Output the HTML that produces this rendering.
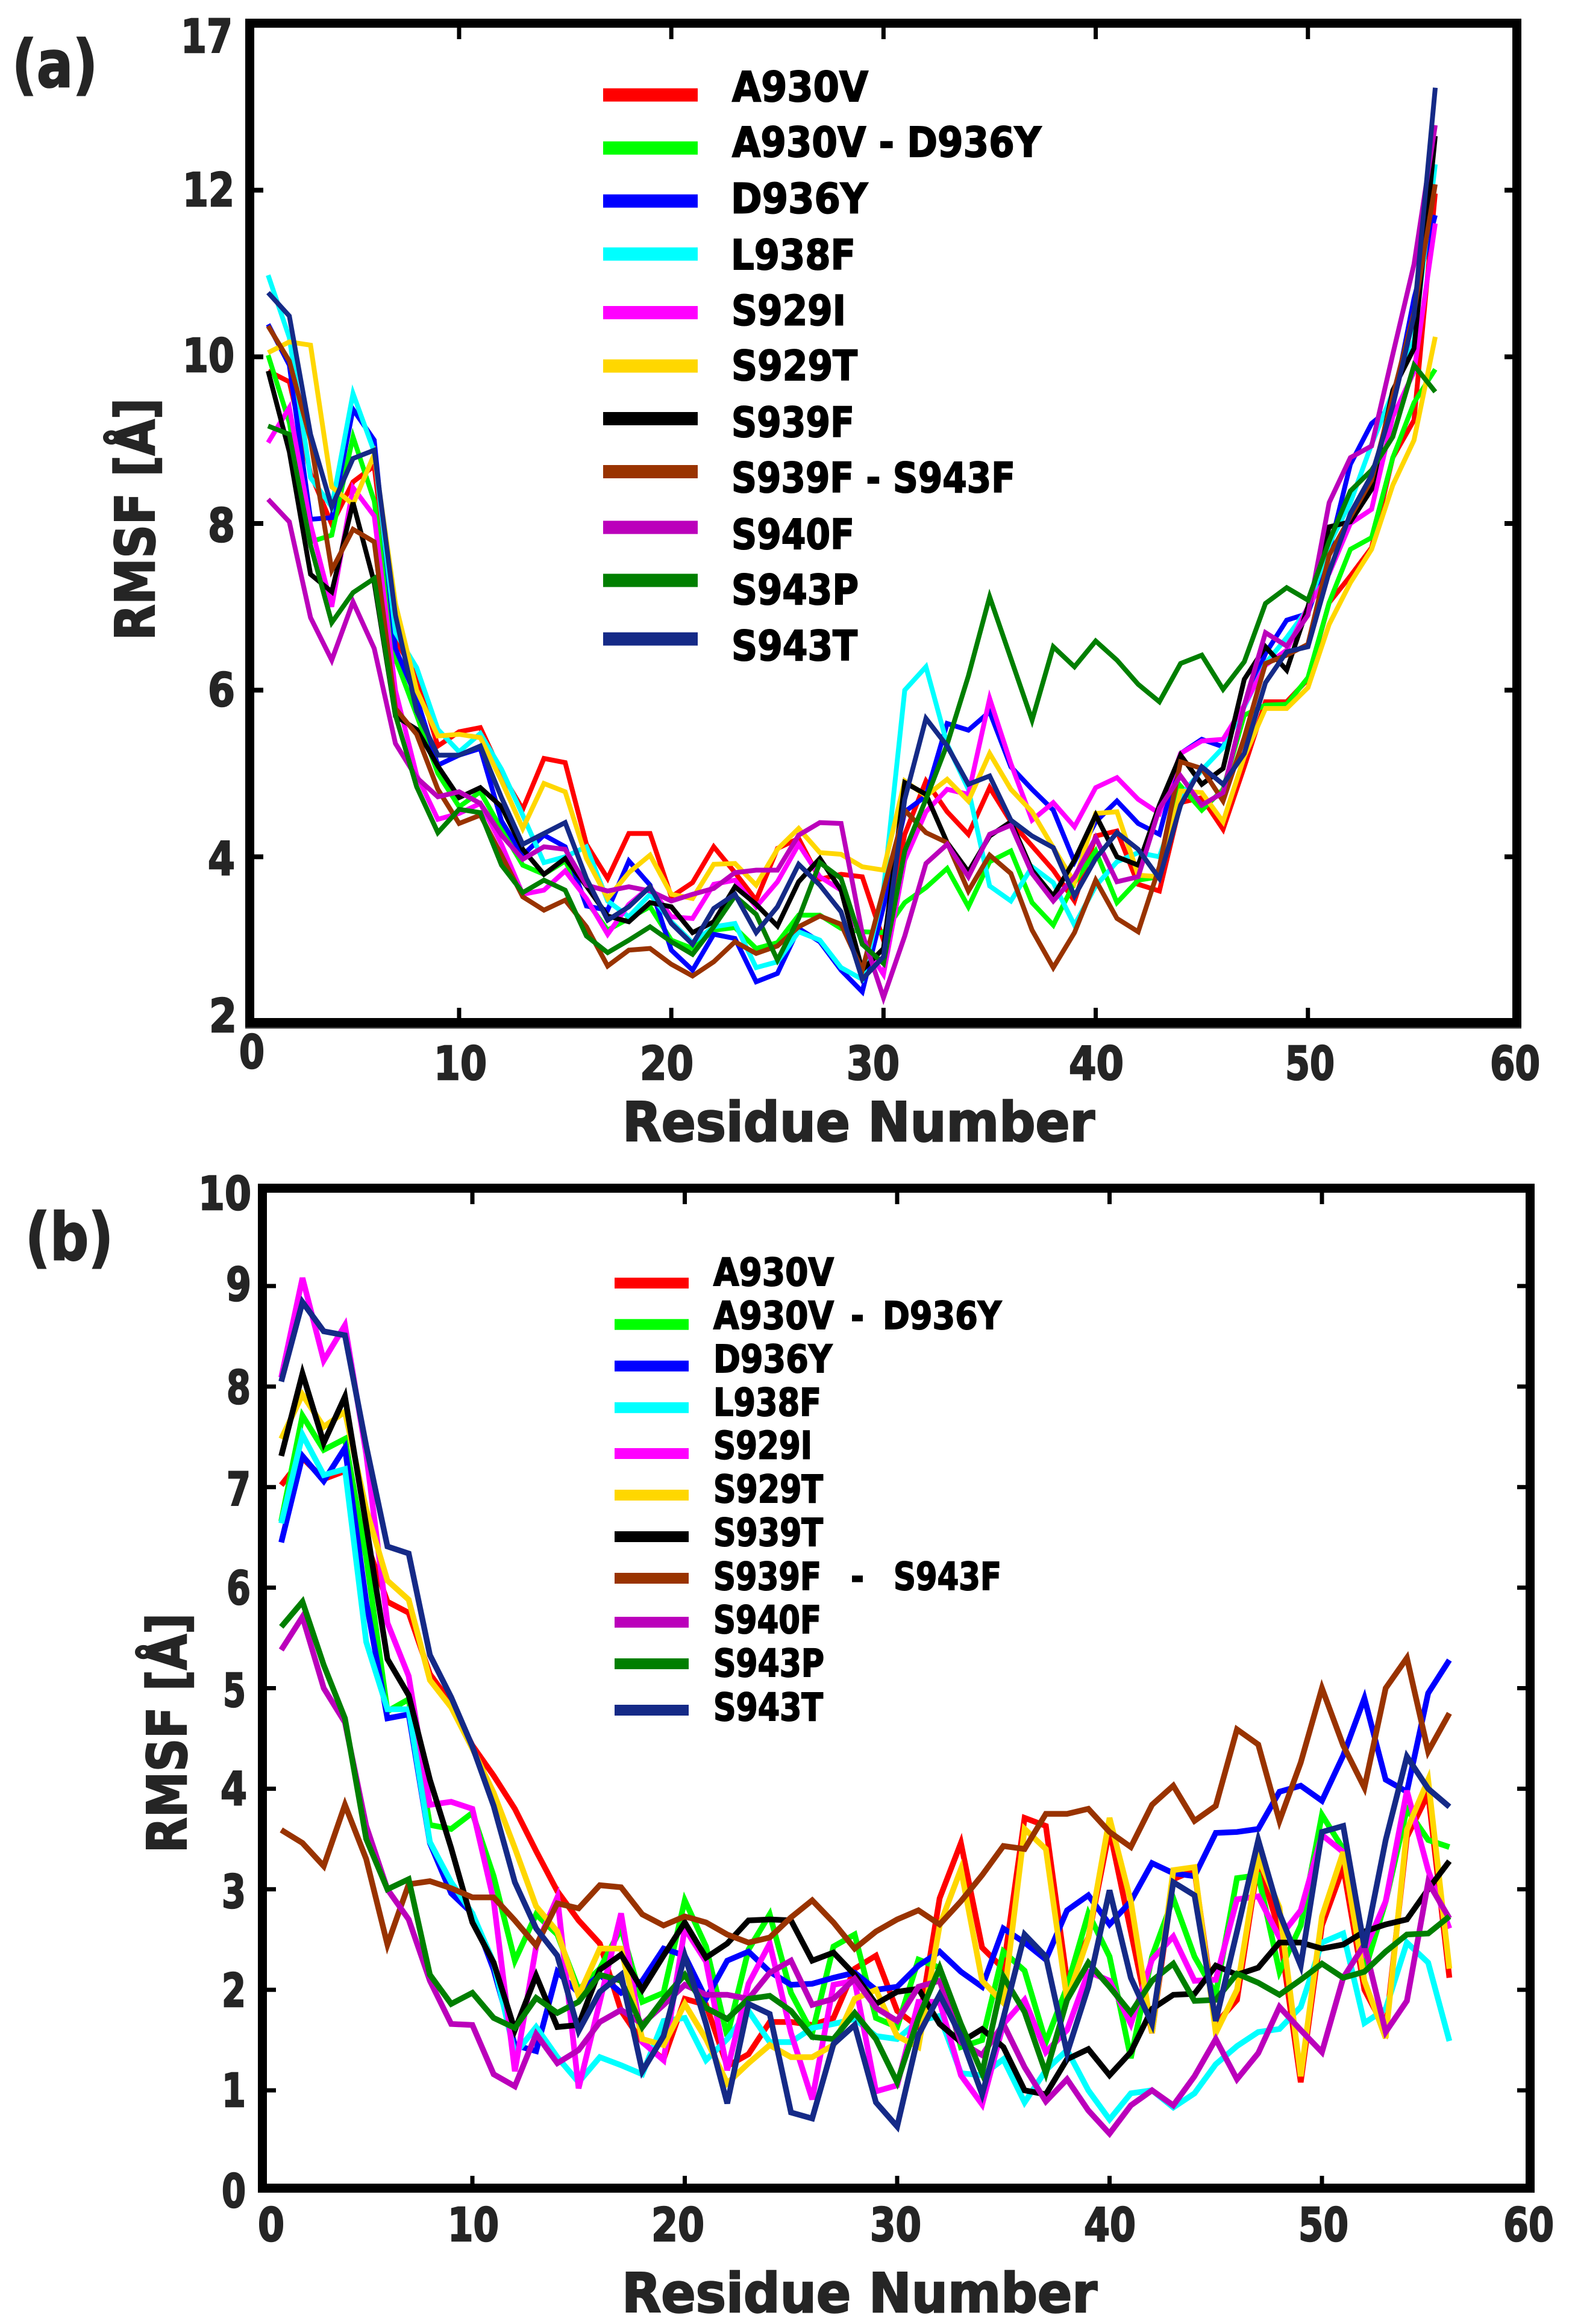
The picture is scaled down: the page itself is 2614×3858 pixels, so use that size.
<!DOCTYPE html>
<html lang="en">
<head>
<meta charset="utf-8">
<title>RMSF per residue</title>
<style>
html,body{margin:0;padding:0;background:#fff;}
svg{display:block;}
text{font-family:"DejaVu Sans","Liberation Sans",sans-serif;font-weight:700;}
.ax{fill:#252525;stroke:#252525;stroke-width:2.5;}
.lg{fill:#000;stroke:#000;stroke-width:2;}
</style>
</head>
<body>
<svg id="fig" xmlns="http://www.w3.org/2000/svg" width="2614" height="3858" viewBox="0 0 2614 3858">
<rect x="0" y="0" width="2614" height="3858" fill="#fff"/>

<g id="panelA">
  <g id="linesA"></g>
  <g id="ticksA"></g>
  <rect x="414.5" y="38.5" width="2103" height="1659" fill="none" stroke="#000" stroke-width="15"/>
  <rect x="407" y="1705" width="2118" height="2.5" fill="#333"/>
  <text class="ax" x="20" y="144" font-size="108" textLength="142" lengthAdjust="spacingAndGlyphs">(a)</text>
  <text class="ax" x="1033" y="1894" font-size="90" textLength="784" lengthAdjust="spacingAndGlyphs">Residue Number</text>
  <text class="ax" transform="translate(256,1063) rotate(-90)" x="0" y="0" font-size="90" textLength="402" lengthAdjust="spacingAndGlyphs">RMSF [Å]</text>
  <g>
    <rect x="1001" y="146.6" width="157" height="22" fill="#ff0000"/>
    <rect x="1001" y="234.7" width="157" height="22" fill="#00ff00"/>
    <rect x="1001" y="322.7" width="157" height="22" fill="#0000ff"/>
    <rect x="1001" y="410.7" width="157" height="22" fill="#00ffff"/>
    <rect x="1001" y="508" width="157" height="22" fill="#ff00ff"/>
    <rect x="1001" y="596.6" width="157" height="22" fill="#ffd700"/>
    <rect x="1001" y="684" width="157" height="22" fill="#000000"/>
    <rect x="1001" y="772" width="157" height="22" fill="#993300"/>
    <rect x="1001" y="864.5" width="157" height="22" fill="#bb00bb"/>
    <rect x="1001" y="952.5" width="157" height="22" fill="#007f00"/>
    <rect x="1001" y="1049.7" width="157" height="22" fill="#152a87"/>
    <text class="lg" x="1215" y="168" font-size="69" textLength="226" lengthAdjust="spacingAndGlyphs">A930V</text>
    <text class="lg" x="1215" y="260" font-size="69" textLength="513" lengthAdjust="spacingAndGlyphs">A930V - D936Y</text>
    <text class="lg" x="1213" y="353.6" font-size="69" textLength="227" lengthAdjust="spacingAndGlyphs">D936Y</text>
    <text class="lg" x="1213" y="447" font-size="69" textLength="207" lengthAdjust="spacingAndGlyphs">L938F</text>
    <text class="lg" x="1214" y="539.5" font-size="69" textLength="190" lengthAdjust="spacingAndGlyphs">S929I</text>
    <text class="lg" x="1214" y="631" font-size="69" textLength="209" lengthAdjust="spacingAndGlyphs">S929T</text>
    <text class="lg" x="1214" y="725" font-size="69" textLength="204" lengthAdjust="spacingAndGlyphs">S939F</text>
    <text class="lg" x="1214" y="817" font-size="69" textLength="471" lengthAdjust="spacingAndGlyphs">S939F - S943F</text>
    <text class="lg" x="1214" y="911" font-size="69" textLength="204" lengthAdjust="spacingAndGlyphs">S940F</text>
    <text class="lg" x="1214" y="1003" font-size="69" textLength="211" lengthAdjust="spacingAndGlyphs">S943P</text>
    <text class="lg" x="1214" y="1096" font-size="69" textLength="209" lengthAdjust="spacingAndGlyphs">S943T</text>
  </g>
</g>

<g id="panelB">
  <g id="linesB"></g>
  <g id="ticksB"></g>
  <rect x="435.5" y="1972.5" width="2104" height="1660" fill="none" stroke="#000" stroke-width="15"/>
  <text class="ax" x="42" y="2091" font-size="108" textLength="146" lengthAdjust="spacingAndGlyphs">(b)</text>
  <text class="ax" x="1032" y="3838" font-size="90" textLength="789" lengthAdjust="spacingAndGlyphs">Residue Number</text>
  <text class="ax" transform="translate(309,3076) rotate(-90)" x="0" y="0" font-size="90" textLength="398" lengthAdjust="spacingAndGlyphs">RMSF [Å]</text>
  <g>
    <rect x="1020" y="2121" width="123" height="18" fill="#ff0000"/>
    <rect x="1020" y="2189.7" width="123" height="18" fill="#00ff00"/>
    <rect x="1020" y="2258.7" width="123" height="18" fill="#0000ff"/>
    <rect x="1020" y="2327.8" width="123" height="18" fill="#00ffff"/>
    <rect x="1020" y="2404" width="123" height="18" fill="#ff00ff"/>
    <rect x="1020" y="2473" width="123" height="18" fill="#ffd700"/>
    <rect x="1020" y="2542" width="123" height="18" fill="#000000"/>
    <rect x="1020" y="2611" width="123" height="18" fill="#993300"/>
    <rect x="1020" y="2684" width="123" height="18" fill="#bb00bb"/>
    <rect x="1020" y="2753" width="123" height="18" fill="#007f00"/>
    <rect x="1020" y="2830" width="123" height="18" fill="#152a87"/>
    <text class="lg" x="1184" y="2134" font-size="63" textLength="200" lengthAdjust="spacingAndGlyphs">A930V</text>
    <g>
      <text class="lg" x="1184" y="2206" font-size="63" textLength="200" lengthAdjust="spacingAndGlyphs">A930V</text>
      <text class="lg" x="1412" y="2206" font-size="63" textLength="22" lengthAdjust="spacingAndGlyphs">-</text>
      <text class="lg" x="1465" y="2206" font-size="63" textLength="197" lengthAdjust="spacingAndGlyphs">D936Y</text>
    </g>
    <text class="lg" x="1184" y="2278" font-size="63" textLength="197" lengthAdjust="spacingAndGlyphs">D936Y</text>
    <text class="lg" x="1184" y="2350" font-size="63" textLength="179" lengthAdjust="spacingAndGlyphs">L938F</text>
    <text class="lg" x="1184" y="2421.5" font-size="63" textLength="164" lengthAdjust="spacingAndGlyphs">S929I</text>
    <text class="lg" x="1184" y="2494" font-size="63" textLength="182" lengthAdjust="spacingAndGlyphs">S929T</text>
    <text class="lg" x="1184" y="2566" font-size="63" textLength="182" lengthAdjust="spacingAndGlyphs">S939T</text>
    <g>
      <text class="lg" x="1184" y="2639" font-size="63" textLength="179" lengthAdjust="spacingAndGlyphs">S939F</text>
      <text class="lg" x="1412" y="2639" font-size="63" textLength="22" lengthAdjust="spacingAndGlyphs">-</text>
      <text class="lg" x="1483" y="2639" font-size="63" textLength="179" lengthAdjust="spacingAndGlyphs">S943F</text>
    </g>
    <text class="lg" x="1184" y="2711" font-size="63" textLength="179" lengthAdjust="spacingAndGlyphs">S940F</text>
    <text class="lg" x="1184" y="2783" font-size="63" textLength="184" lengthAdjust="spacingAndGlyphs">S943P</text>
    <text class="lg" x="1184" y="2856" font-size="63" textLength="182" lengthAdjust="spacingAndGlyphs">S943T</text>
  </g>
</g>
</svg>

<script>
// ---------- shared ----------
const seriesColors = ['#ff0000','#00ff00','#0000ff','#00ffff','#ff00ff','#ffd700','#000000','#993300','#bb00bb','#007f00','#152a87'];

// ---------- panel (a) data ----------
const seriesNamesA = ['a930v','a930v-d936y','d936y','l938f','s929i','s929t','s939f','s939f-s943f','s940f','s943p','s943t'];
const a_A930V = [9.83,9.7,8.6,7.99,8.5,8.69,6.6,6.17,5.33,5.5,5.55,5.0,4.57,5.18,5.13,4.15,3.74,4.28,4.28,3.52,3.69,4.12,3.81,3.48,4.1,4.22,3.73,3.79,3.76,3.0,4.27,4.91,4.54,4.27,4.83,4.42,4.13,3.84,3.47,4.25,4.31,3.67,3.59,4.65,4.71,4.33,5.08,5.86,5.86,6.13,7.05,7.37,7.71,8.79,9.24,11.96];
const a_A930V_D936Y = [10.02,9.21,7.78,7.86,9.04,8.27,6.38,5.7,5.0,4.6,4.78,4.33,3.9,3.79,3.95,3.47,3.12,3.26,3.4,3.0,2.9,3.12,3.15,2.9,2.97,3.3,3.3,3.14,3.1,3.09,3.45,3.63,3.86,3.4,3.94,4.07,3.45,3.18,3.69,4.07,3.45,3.72,3.76,4.85,4.56,4.81,5.7,5.82,5.83,6.15,7.05,7.69,7.83,8.79,9.45,9.85];
const a_D936Y = [10.39,9.9,8.05,8.07,9.37,9.0,6.5,5.9,5.1,5.22,5.3,4.43,4.02,4.26,4.12,3.41,3.36,3.95,3.66,2.88,2.64,3.07,3.02,2.5,2.6,3.14,2.98,2.64,2.38,3.4,4.54,4.73,5.6,5.52,5.74,5.08,4.81,4.56,3.94,4.42,4.67,4.4,4.27,5.24,5.41,5.32,5.82,6.44,6.84,6.92,7.67,8.71,9.2,9.41,10.7,11.7];
const a_L938F = [10.98,10.23,8.55,8.2,9.56,8.86,6.69,6.27,5.53,5.26,5.48,5.05,4.5,3.93,4.0,4.12,3.47,3.28,3.55,3.22,2.97,3.16,3.2,2.67,2.74,3.1,3.0,2.67,2.53,3.6,6.0,6.28,5.35,4.81,3.65,3.47,3.88,3.69,3.18,3.65,3.94,4.05,4.0,4.73,5.04,5.31,5.8,6.32,6.63,6.98,7.75,8.25,8.95,9.57,10.2,12.31];
const a_S929I = [8.97,9.39,7.99,7.0,8.43,8.09,6.0,4.98,4.45,4.52,4.64,4.15,3.55,3.6,3.83,3.5,3.07,3.43,3.64,3.28,3.26,3.67,3.72,3.4,3.7,4.15,3.76,3.6,2.98,2.59,3.96,4.54,4.81,4.75,5.9,5.12,4.44,4.65,4.36,4.83,4.95,4.69,4.52,5.24,5.39,5.41,5.82,6.3,6.48,7.0,7.4,8.0,8.17,9.28,9.82,11.6];
const a_S929T = [10.05,10.18,10.14,8.44,8.23,8.83,7.04,6.0,5.45,5.47,5.43,4.91,4.34,4.88,4.78,3.98,3.5,3.81,4.02,3.55,3.5,3.91,3.92,3.66,4.09,4.34,4.05,4.03,3.88,3.84,4.91,4.73,4.93,4.67,5.24,4.81,4.54,4.11,3.69,4.52,4.54,3.78,3.76,4.79,4.77,4.42,5.2,5.78,5.78,6.03,6.79,7.29,7.69,8.46,9.0,10.24];
const a_S939F = [9.83,8.86,7.39,7.18,8.25,7.29,5.69,5.53,5.09,4.71,4.83,4.6,4.09,3.79,3.98,3.65,3.29,3.22,3.45,3.4,3.09,3.22,3.64,3.43,3.17,3.7,3.98,3.6,2.64,2.9,4.89,4.75,4.17,3.82,4.25,4.42,3.84,3.53,3.96,4.5,4.0,3.9,4.62,5.22,4.87,5.06,6.13,6.52,6.24,7.0,7.96,8.02,8.41,9.6,10.1,12.65];
const a_S939F_S943F = [10.37,9.95,9.0,7.44,7.93,7.78,5.78,5.47,4.81,4.4,4.5,4.02,3.52,3.36,3.48,3.16,2.69,2.88,2.9,2.71,2.57,2.74,2.98,2.84,2.93,3.16,3.29,3.19,2.64,3.6,4.56,4.29,4.17,3.59,4.02,3.8,3.12,2.67,3.09,3.72,3.26,3.1,3.88,5.14,5.06,4.67,5.43,6.32,6.42,6.55,7.62,8.08,8.52,9.53,10.53,12.07];
const a_S940F = [8.29,8.02,6.87,6.36,7.06,6.5,5.36,4.95,4.72,4.78,4.64,4.26,3.97,4.12,4.09,3.66,3.59,3.64,3.59,3.47,3.55,3.62,3.81,3.84,3.84,4.26,4.41,4.4,3.08,2.31,3.05,3.92,4.15,3.76,4.27,4.38,3.8,3.47,3.76,4.23,3.7,3.76,4.58,4.97,4.62,4.77,5.82,6.69,6.53,6.9,8.25,8.79,8.93,10.03,11.11,12.78];
const a_S943P = [9.17,9.07,7.74,6.81,7.17,7.34,5.7,4.84,4.29,4.57,4.53,3.9,3.57,3.72,3.6,3.05,2.85,3.0,3.16,2.98,2.83,3.16,3.53,3.31,2.76,3.26,3.93,3.74,2.95,2.72,4.07,4.69,5.35,6.17,7.12,6.38,5.64,6.52,6.28,6.59,6.36,6.07,5.86,6.32,6.42,6.01,6.34,7.04,7.23,7.08,7.79,8.39,8.64,9.04,9.9,9.58];
const a_S943T = [10.77,10.49,9.07,8.2,8.78,8.88,6.9,5.75,5.22,5.22,5.33,4.71,4.15,4.28,4.41,3.74,3.24,3.4,3.64,3.2,2.95,3.38,3.55,3.09,3.4,3.91,3.66,3.34,2.53,2.8,4.69,5.66,5.33,4.87,4.97,4.44,4.25,4.11,3.53,3.98,4.29,4.09,3.74,4.62,5.08,4.87,5.24,6.09,6.46,6.52,7.42,8.12,8.58,9.41,10.49,13.23];
const xTicksA = [0,10,20,30,40,50,60];
const yTicksA = [2,4,6,8,10,12,14];
const yTickLabelsA = ['2','4','6','8','10','12','17'];

// ---------- panel (b) data ----------
const seriesNamesB = ['a930v','a930v-d936y','d936y','l938f','s929i','s929t','s939t','s939f-s943f','s940f','s943p','s943t'];
const b_A930V = [7.02,7.29,7.08,7.16,6.45,5.86,5.75,5.14,4.85,4.43,4.13,3.8,3.38,2.98,2.69,2.46,1.79,1.48,1.31,1.91,1.85,1.24,1.36,1.68,1.68,1.65,1.72,2.21,2.34,1.79,1.63,2.91,3.46,2.42,2.21,3.71,3.63,2.09,2.52,3.59,2.58,1.57,3.1,3.19,1.66,1.9,3.28,2.58,1.08,2.64,3.22,2.0,1.6,3.52,3.95,2.12];
const b_A930V_D936Y = [6.66,7.71,7.37,7.48,6.3,4.77,4.89,3.64,3.6,3.76,3.13,2.29,2.75,2.55,2.0,2.21,2.61,1.88,1.97,2.89,2.43,1.54,2.4,2.75,1.97,1.57,2.43,2.55,1.72,1.63,2.3,2.22,1.43,1.5,2.38,2.19,1.48,2.03,2.76,2.33,1.32,2.33,2.91,2.33,1.96,3.11,3.14,2.18,2.64,3.74,3.4,2.18,2.88,3.8,3.49,3.42];
const b_D936Y = [6.45,7.31,7.06,7.39,5.86,4.7,4.74,3.46,2.96,2.76,2.2,1.45,1.39,2.18,1.97,2.15,1.97,2.09,2.41,2.34,1.91,2.29,2.38,2.18,2.05,2.06,2.12,2.17,2.0,2.03,2.24,2.38,2.18,2.03,2.61,2.47,2.3,2.79,2.94,2.65,2.88,3.26,3.16,3.13,3.56,3.57,3.6,3.97,4.03,3.88,4.33,4.9,4.09,3.97,4.95,5.28];
const b_L938F = [6.64,7.52,7.12,7.18,5.46,4.79,4.79,3.47,3.07,2.76,2.27,1.36,1.63,1.33,1.08,1.33,1.25,1.16,1.69,1.72,1.3,1.51,1.79,1.48,1.48,1.62,1.66,1.71,1.54,1.51,1.69,1.74,1.17,1.15,1.31,0.88,1.2,1.4,1.0,0.71,0.97,1.0,0.83,0.97,1.26,1.44,1.58,1.61,1.83,2.47,2.56,1.67,1.81,2.47,2.27,1.49];
const b_S929I = [8.09,9.08,8.26,8.61,7.33,5.65,5.12,3.84,3.87,3.8,2.89,1.19,2.43,2.92,1.02,1.88,2.76,1.48,1.3,2.61,2.28,1.2,2.06,2.46,1.57,0.91,2.05,2.09,0.99,1.05,1.88,1.88,1.15,0.86,1.66,1.9,1.38,1.6,2.18,2.09,1.66,2.3,2.53,2.09,2.1,2.9,2.93,2.52,2.79,3.54,3.37,2.39,2.88,3.98,3.19,2.61];
const b_S929T = [7.48,7.92,7.6,7.75,6.78,6.07,5.88,5.08,4.81,4.4,3.96,3.41,2.83,2.58,1.94,2.41,2.41,1.51,1.45,1.86,1.51,1.07,1.27,1.45,1.33,1.33,1.45,1.91,2.0,1.54,1.43,2.64,3.2,2.09,1.87,3.6,3.4,1.9,2.52,3.71,2.88,1.57,3.19,3.22,1.57,2.0,3.31,2.82,1.14,2.73,3.37,2.09,1.52,3.59,4.09,2.21];
const b_S939T = [7.31,8.13,7.44,7.9,6.62,5.29,4.93,4.09,3.41,2.67,2.27,1.6,2.14,1.63,1.65,2.2,2.35,2.0,2.34,2.67,2.32,2.46,2.69,2.7,2.69,2.29,2.37,2.15,1.86,1.98,2.01,1.66,1.48,1.61,1.43,1.0,0.96,1.31,1.41,1.15,1.38,1.81,1.95,1.96,2.24,2.15,2.22,2.47,2.47,2.41,2.45,2.58,2.65,2.7,3.0,3.28];
const b_S939F_S943F = [3.59,3.46,3.23,3.84,3.3,2.45,3.05,3.08,3.01,2.92,2.92,2.69,2.44,2.86,2.81,3.04,3.02,2.75,2.64,2.73,2.67,2.55,2.47,2.52,2.72,2.89,2.67,2.41,2.58,2.7,2.79,2.65,2.88,3.14,3.43,3.4,3.75,3.75,3.8,3.57,3.42,3.84,4.03,3.68,3.83,4.59,4.44,3.68,4.26,5.0,4.43,4.01,5.0,5.3,4.37,4.75];
const b_S940F = [5.38,5.71,5.0,4.66,3.63,3.0,2.7,2.09,1.66,1.65,1.16,1.04,1.56,1.27,1.4,1.68,1.8,1.66,1.85,2.05,1.95,1.95,1.91,2.17,2.29,1.85,1.91,2.11,1.82,1.69,2.03,2.09,1.48,1.35,1.66,1.23,0.89,1.11,0.8,0.57,0.85,1.0,0.85,1.14,1.51,1.11,1.37,1.83,1.6,1.38,2.12,2.45,1.58,1.89,3.07,2.71];
const b_S943P = [5.61,5.86,5.23,4.7,3.5,3.0,3.1,2.15,1.86,1.97,1.72,1.62,1.92,1.77,1.88,2.15,2.09,1.63,1.91,2.15,1.82,1.71,1.91,1.94,1.79,1.53,1.51,1.77,1.51,1.08,1.72,2.22,1.66,1.17,2.13,1.78,1.17,1.9,2.27,2.03,1.77,2.09,2.26,1.89,1.9,2.16,2.07,1.95,2.1,2.26,2.12,2.18,2.38,2.55,2.56,2.73];
const b_S943T = [8.05,8.84,8.55,8.51,7.41,6.41,6.34,5.33,4.91,4.42,3.83,3.07,2.61,2.34,1.59,1.98,2.15,1.19,1.54,2.34,1.66,0.87,1.86,1.76,0.78,0.72,1.46,1.65,0.88,0.64,1.55,1.95,1.54,0.96,1.72,2.55,2.33,1.37,2.03,2.99,2.12,1.66,3.07,2.94,1.69,2.58,3.49,2.76,2.24,3.57,3.63,2.42,3.49,4.32,4.0,3.82];
const xTicksB = [0,10,20,30,40,50,60];
const yTicksB = [0,1,2,3,4,5,6,7,8,9,10];

const seriesA = [a_A930V,a_A930V_D936Y,a_D936Y,a_L938F,a_S929I,a_S929T,a_S939F,a_S939F_S943F,a_S940F,a_S943P,a_S943T];
const seriesB = [b_A930V,b_A930V_D936Y,b_D936Y,b_L938F,b_S929I,b_S929T,b_S939T,b_S939F_S943F,b_S940F,b_S943P,b_S943T];

// ---------- axis functions ----------
function xA(v){ return 409.75 + 35.22 * v; }
function yA(v){ return 1699 - (v - 2) * 138.33; }
function xB(v){ return 431.5 + 35.25 * v; }
function yB(v){ return 3637 - 166.9 * v; }

const SVGNS = 'http://www.w3.org/2000/svg';
function make(tag, attrs, parent){
  const e = document.createElementNS(SVGNS, tag);
  for (const k in attrs) e.setAttribute(k, attrs[k]);
  parent.appendChild(e);
  return e;
}
function drawSeries(group, series, names, xf, yf, width){
  series.forEach(function(vals, s){
    const pts = vals.map(function(v, i){ return xf(i + 1).toFixed(1) + ',' + yf(v).toFixed(1); }).join(' ');
    const line = make('polyline', {points: pts, fill: 'none', stroke: seriesColors[s], 'stroke-width': width, 'stroke-linejoin': 'miter', 'stroke-miterlimit': 4, 'stroke-linecap': 'butt'}, group);
    
    
  });
}

// layout of tick-label glyph boxes (left edge, width, baseline) per panel
function labelBoxXA(i){ return [[397,42],[720,88],[1062,89],[1405,88],[1774,91],[2133,82],[2473,83]][i]; }
function labelBoxYA(i){ return [[347,46,1713],[345,45,1452],[345,45,1172],[345,45,899],[303,86,617],[303,86,342],[300,86,87]][i]; }
function labelBoxYB(i){ return [[368,40,3664],[368,40,3497],[368,40,3331],[368,40,3167],[366,44,2996],[370,38,2833],[376,40,2663],[376,40,2499],[376,40,2330],[375,42,2159],[329,88,2008]][i]; }
function labelBoxXB(i){ return [[428,44],[743,85],[1081,88],[1444,85],[1799,86],[2155,83],[2495,84]][i]; }

// ---------- panel (a) ----------
const gLinesA = document.getElementById('linesA');
const gTicksA = document.getElementById('ticksA');
drawSeries(gLinesA, seriesA, seriesNamesA, xA, yA, 8);

xTicksA.forEach(function(t, i){
  const px = xA(t);
  if (i > 0 && i < xTicksA.length - 1) {
    const tb = make('line', {x1: px, x2: px, y1: 1691, y2: 1673, stroke: '#000', 'stroke-width': 7}, gTicksA);
    
    
    const tt = make('line', {x1: px, x2: px, y1: 45, y2: 65, stroke: '#000', 'stroke-width': 7}, gTicksA);
    
    
  }
  const box = labelBoxXA(i);
  const base = t === 0 ? 1773 : 1792;
  const lab = make('text', {x: box[0], y: base, 'font-size': 77, textLength: box[1], lengthAdjust: 'spacingAndGlyphs', class: 'ax'}, gTicksA);
  lab.textContent = String(t);
  
  
});
yTicksA.forEach(function(t, i){
  const py = yA(t);
  if (i > 0 && i < yTicksA.length - 1) {
    const tl = make('line', {x1: 421, x2: 437, y1: py, y2: py, stroke: '#000', 'stroke-width': 8}, gTicksA);
    
    
    const tr = make('line', {x1: 2497, x2: 2512, y1: py, y2: py, stroke: '#000', 'stroke-width': 8}, gTicksA);
    
    
  }
  const box = labelBoxYA(i);
  const lab = make('text', {x: box[0], y: box[2], 'font-size': 77, textLength: box[1], lengthAdjust: 'spacingAndGlyphs', class: 'ax'}, gTicksA);
  lab.textContent = yTickLabelsA[i];
  
  
});

// ---------- panel (b) ----------
const gLinesB = document.getElementById('linesB');
const gTicksB = document.getElementById('ticksB');
drawSeries(gLinesB, seriesB, seriesNamesB, xB, yB, 9.5);

xTicksB.forEach(function(t, i){
  const px = xB(t);
  if (i > 0 && i < xTicksB.length - 1) {
    const tb = make('line', {x1: px, x2: px, y1: 3627, y2: 3612, stroke: '#000', 'stroke-width': 7}, gTicksB);
    
    
    const tt = make('line', {x1: px, x2: px, y1: 1979, y2: 1999, stroke: '#000', 'stroke-width': 7}, gTicksB);
    
    
  }
  const box = labelBoxXB(i);
  const lab = make('text', {x: box[0], y: 3720, 'font-size': 77, textLength: box[1], lengthAdjust: 'spacingAndGlyphs', class: 'ax'}, gTicksB);
  lab.textContent = String(t);
  
  
});
yTicksB.forEach(function(t, i){
  const py = yB(t);
  if (i > 0 && i < yTicksB.length - 1) {
    const tl = make('line', {x1: 442, x2: 458, y1: py, y2: py, stroke: '#000', 'stroke-width': 7}, gTicksB);
    
    
    const tr = make('line', {x1: 2518, x2: 2533, y1: py, y2: py, stroke: '#000', 'stroke-width': 7}, gTicksB);
    
    
  }
  const box = labelBoxYB(i);
  const lab = make('text', {x: box[0], y: box[2], 'font-size': 77, textLength: box[1], lengthAdjust: 'spacingAndGlyphs', class: 'ax'}, gTicksB);
  lab.textContent = String(t);
  
  
});
</script>
</body>
</html>
